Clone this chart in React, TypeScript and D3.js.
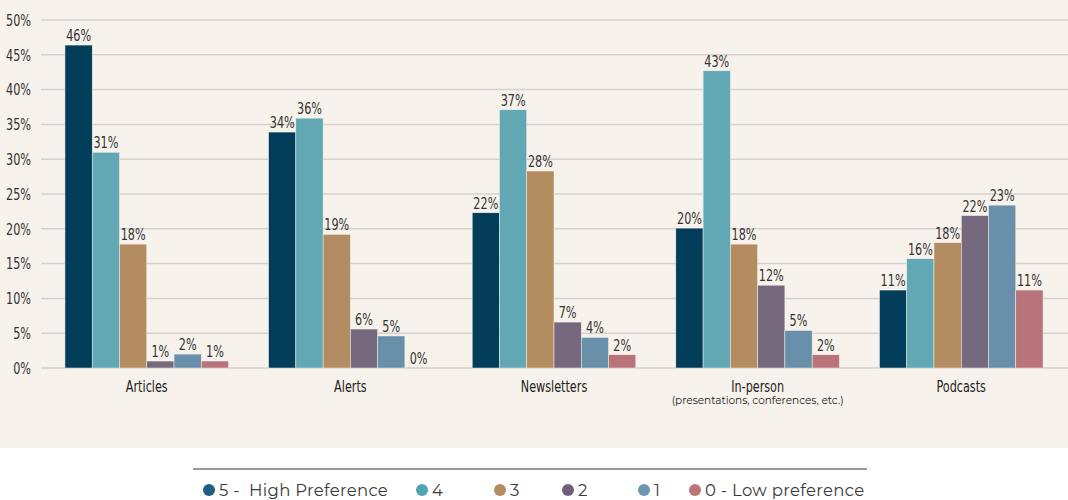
import React from "react";
import * as d3 from "d3";

const categories = ["Articles", "Alerts", "Newsletters", "In-person", "Podcasts"];
const subLabels = ["", "", "", "(presentations, conferences, etc.)", ""];
const seriesNames = ["5 -  High Preference", "4", "3", "2", "1", "0 - Low preference"];
const seriesColors = ["#023D5A", "#62A8B4", "#B48C62", "#76697E", "#6890AA", "#B9737A"];
const legendColors = ["#1F5F80", "#4FA3B2", "#B48C62", "#6D6078", "#6A98B2", "#BC7479"];

// values per category, series order 5,4,3,2,1,0
const s5 = [46.4, 33.9, 22.3, 20.1, 11.2];
const s4 = [31.0, 35.9, 37.1, 42.7, 15.7];
const s3 = [17.8, 19.2, 28.3, 17.8, 18.0];
const s2 = [1.0, 5.6, 6.6, 11.9, 21.9];
const s1 = [2.0, 4.6, 4.4, 5.4, 23.4];
const s0 = [1.0, 0.0, 1.9, 1.9, 11.2];
const series = [s5, s4, s3, s2, s1, s0];
const yTicks = [0, 5, 10, 15, 20, 25, 30, 35, 40, 45, 50];

const W = 1068;
const H = 500;
const legendX = [203, 416, 494, 562, 638, 689];

const cond = "'DejaVu Sans Condensed', 'Liberation Sans Narrow', sans-serif";
const sans = "'Montserrat', 'Noto Sans', 'Open Sans', sans-serif";
const SX = 0.78;

function CText(props: { x: number; y: number; anchor: "start" | "middle" | "end"; dy?: string; fill?: string; size?: number; children: React.ReactNode }) {
  return (
    <text
      transform={`translate(${props.x},${props.y}) scale(${SX},1)`}
      textAnchor={props.anchor}
      dy={props.dy}
      fontFamily={cond}
      style={{ fontStretch: "condensed" }}
      fontSize={props.size ?? 16}
      fill={props.fill ?? "#333"}
    >
      {props.children}
    </text>
  );
}

export default function App() {
  const x = d3.scaleBand<string>().domain(categories).range([45, 1063]).paddingInner(0.1966).paddingOuter(0.098);
  const xs = d3.scaleBand<number>().domain(d3.range(seriesNames.length)).range([0, x.bandwidth()]);
  const y = d3.scaleLinear().domain([0, 50]).range([368, 20]);
  return (
    <svg width={W} height={H} style={{ position: "absolute", left: 0, top: 0, background: "#fff" }}>
      <rect x={0} y={0} width={W} height={448} fill="#F7F2EC" />
      {yTicks.map((t) => (
        <g key={t}>
          <line x1={41} x2={W} y1={y(t)} y2={y(t)} stroke="#D5D2CE" strokeWidth={1.5} />
          <CText x={31} y={y(t)} dy="0.36em" anchor="end">
            {t}%
          </CText>
        </g>
      ))}
      {categories.map((c, ci) => (
        <g key={c} transform={`translate(${x(c)},0)`}>
          {series.map((s, si) => (
            <g key={si}>
              <rect
                x={xs(si)}
                y={y(s[ci])}
                width={xs.bandwidth()}
                height={y(0) - y(s[ci])}
                fill={seriesColors[si]}
                stroke="#F7F2EC"
                strokeWidth={0.5}
              />
              <CText x={(xs(si) as number) + xs.bandwidth() / 2} y={y(s[ci]) - 4} anchor="middle">
                {Math.round(s[ci])}%
              </CText>
            </g>
          ))}
          <CText x={x.bandwidth() / 2} y={392} anchor="middle" fill="#222">
            {c}
          </CText>
          {subLabels[ci] && (
            <text x={x.bandwidth() / 2} y={404} textAnchor="middle" fontFamily={sans} fontSize={10.5} fill="#222">
              {subLabels[ci]}
            </text>
          )}
        </g>
      ))}
      <line x1={193} x2={867} y1={469} y2={469} stroke="#333" strokeWidth={1} />
      {seriesNames.map((n, i) => (
        <g key={n} transform={`translate(${legendX[i]},490)`}>
          <circle cx={6} cy={0} r={6} fill={legendColors[i]} />
          <text x={16} y={0} dy="0.36em" fontFamily={sans} fontSize={16.5} letterSpacing={0.3} fill="#3a3a3a" style={{ whiteSpace: "pre" }}>
            {n}
          </text>
        </g>
      ))}
    </svg>
  );
}
